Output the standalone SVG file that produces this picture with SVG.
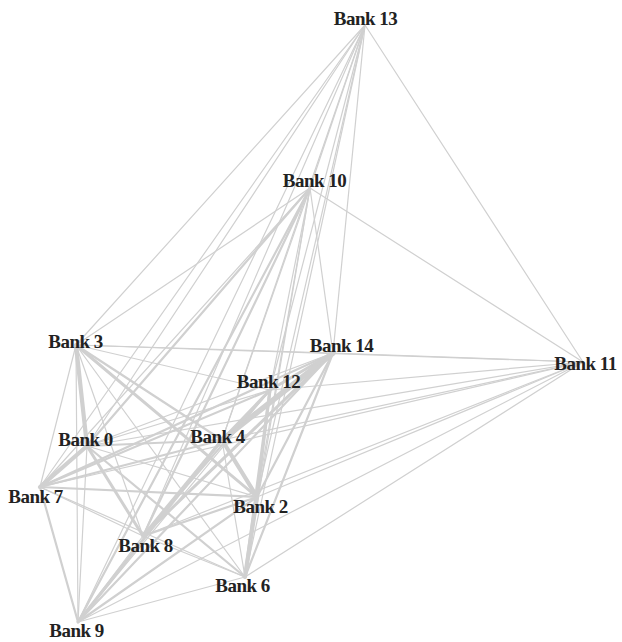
<svg xmlns="http://www.w3.org/2000/svg" width="622" height="642" viewBox="0 0 622 642">
<style>
line{stroke:#d0d0d0;stroke-linecap:round;fill:none}
.e1{stroke-width:1.2}
.e2{stroke-width:2.2}
.e3{stroke-width:3}
.e4{stroke-width:4.2}
.e5{stroke-width:5.5}
text{font-family:"Liberation Serif","Times New Roman",serif;font-weight:bold;font-size:19px;letter-spacing:-0.5px;fill:#222;text-anchor:middle}
</style>
<rect width="622" height="642" fill="#fff"/>
<g id="edges">
<line class="e1" x1="365" y1="25" x2="583" y2="362"/>
<line class="e1" x1="365" y1="25" x2="76" y2="345"/>
<line class="e1" x1="365" y1="25" x2="87" y2="446"/>
<line class="e1" x1="365" y1="25" x2="40" y2="487"/>
<line class="e1" x1="365" y1="25" x2="78" y2="622"/>
<line class="e1" x1="365" y1="25" x2="143" y2="536"/>
<line class="e1" x1="365" y1="25" x2="222" y2="440"/>
<line class="e1" x1="365" y1="25" x2="245" y2="577"/>
<line class="e1" x1="365" y1="25" x2="257" y2="497"/>
<line class="e1" x1="365" y1="25" x2="270" y2="390"/>
<line class="e1" x1="365" y1="25" x2="333" y2="353"/>
<line class="e1" x1="365" y1="25" x2="310" y2="188"/>
<line class="e1" x1="310" y1="188" x2="583" y2="362"/>
<line class="e1" x1="310" y1="188" x2="76" y2="345"/>
<line class="e2" x1="310" y1="188" x2="87" y2="446"/>
<line class="e1" x1="310" y1="188" x2="40" y2="487"/>
<line class="e2" x1="310" y1="188" x2="78" y2="622"/>
<line class="e2" x1="310" y1="188" x2="143" y2="536"/>
<line class="e1" x1="310" y1="188" x2="222" y2="440"/>
<line class="e1" x1="310" y1="188" x2="245" y2="577"/>
<line class="e1" x1="310" y1="188" x2="257" y2="497"/>
<line class="e1" x1="310" y1="188" x2="270" y2="390"/>
<line class="e1" x1="310" y1="188" x2="333" y2="353"/>
<line class="e1" x1="583" y1="362" x2="76" y2="345"/>
<line class="e1" x1="583" y1="362" x2="333" y2="353"/>
<line class="e1" x1="583" y1="362" x2="270" y2="390"/>
<line class="e1" x1="583" y1="362" x2="222" y2="440"/>
<line class="e1" x1="583" y1="362" x2="87" y2="446"/>
<line class="e1" x1="583" y1="362" x2="40" y2="487"/>
<line class="e1" x1="583" y1="362" x2="257" y2="497"/>
<line class="e1" x1="583" y1="362" x2="143" y2="536"/>
<line class="e1" x1="583" y1="362" x2="245" y2="577"/>
<line class="e1" x1="583" y1="362" x2="78" y2="622"/>
<line class="e1" x1="76" y1="345" x2="333" y2="353"/>
<line class="e1" x1="76" y1="345" x2="270" y2="390"/>
<line class="e2" x1="76" y1="345" x2="222" y2="440"/>
<line class="e4" x1="76" y1="345" x2="87" y2="446"/>
<line class="e1" x1="76" y1="345" x2="40" y2="487"/>
<line class="e3" x1="76" y1="345" x2="257" y2="497"/>
<line class="e1" x1="76" y1="345" x2="143" y2="536"/>
<line class="e1" x1="76" y1="345" x2="245" y2="577"/>
<line class="e1" x1="76" y1="345" x2="78" y2="622"/>
<line class="e3" x1="333" y1="353" x2="270" y2="390"/>
<line class="e5" x1="333" y1="353" x2="222" y2="440"/>
<line class="e1" x1="333" y1="353" x2="87" y2="446"/>
<line class="e2" x1="333" y1="353" x2="40" y2="487"/>
<line class="e2" x1="333" y1="353" x2="257" y2="497"/>
<line class="e3" x1="333" y1="353" x2="143" y2="536"/>
<line class="e2" x1="333" y1="353" x2="245" y2="577"/>
<line class="e2" x1="333" y1="353" x2="78" y2="622"/>
<line class="e3" x1="270" y1="390" x2="222" y2="440"/>
<line class="e1" x1="270" y1="390" x2="87" y2="446"/>
<line class="e2" x1="270" y1="390" x2="40" y2="487"/>
<line class="e3" x1="270" y1="390" x2="257" y2="497"/>
<line class="e2" x1="270" y1="390" x2="143" y2="536"/>
<line class="e3" x1="270" y1="390" x2="245" y2="577"/>
<line class="e1" x1="270" y1="390" x2="78" y2="622"/>
<line class="e2" x1="222" y1="440" x2="87" y2="446"/>
<line class="e2" x1="222" y1="440" x2="40" y2="487"/>
<line class="e4" x1="222" y1="440" x2="257" y2="497"/>
<line class="e3" x1="222" y1="440" x2="143" y2="536"/>
<line class="e1" x1="222" y1="440" x2="245" y2="577"/>
<line class="e3" x1="222" y1="440" x2="78" y2="622"/>
<line class="e4" x1="87" y1="446" x2="40" y2="487"/>
<line class="e1" x1="87" y1="446" x2="257" y2="497"/>
<line class="e3" x1="87" y1="446" x2="143" y2="536"/>
<line class="e2" x1="87" y1="446" x2="245" y2="577"/>
<line class="e1" x1="87" y1="446" x2="78" y2="622"/>
<line class="e2" x1="40" y1="487" x2="257" y2="497"/>
<line class="e1" x1="40" y1="487" x2="143" y2="536"/>
<line class="e1" x1="40" y1="487" x2="245" y2="577"/>
<line class="e2" x1="40" y1="487" x2="78" y2="622"/>
<line class="e2" x1="257" y1="497" x2="143" y2="536"/>
<line class="e4" x1="257" y1="497" x2="245" y2="577"/>
<line class="e2" x1="257" y1="497" x2="78" y2="622"/>
<line class="e1" x1="143" y1="536" x2="245" y2="577"/>
<line class="e1" x1="143" y1="536" x2="78" y2="622"/>
<line class="e1" x1="245" y1="577" x2="78" y2="622"/>
</g>
<g id="node-13"><text x="365.5" y="25">Bank 13</text></g>
<g id="node-10"><text x="314.5" y="187">Bank 10</text></g>
<g id="node-3"><text x="75.5" y="348">Bank 3</text></g>
<g id="node-14"><text x="341.5" y="352">Bank 14</text></g>
<g id="node-11"><text x="585.5" y="370">Bank 11</text></g>
<g id="node-12"><text x="268.5" y="388">Bank 12</text></g>
<g id="node-0"><text x="85.5" y="446">Bank 0</text></g>
<g id="node-4"><text x="217.5" y="443">Bank 4</text></g>
<g id="node-7"><text x="35.5" y="503">Bank 7</text></g>
<g id="node-2"><text x="260.5" y="513">Bank 2</text></g>
<g id="node-8"><text x="145.5" y="552">Bank 8</text></g>
<g id="node-6"><text x="242.5" y="592">Bank 6</text></g>
<g id="node-9"><text x="76.5" y="637">Bank 9</text></g>
</svg>
